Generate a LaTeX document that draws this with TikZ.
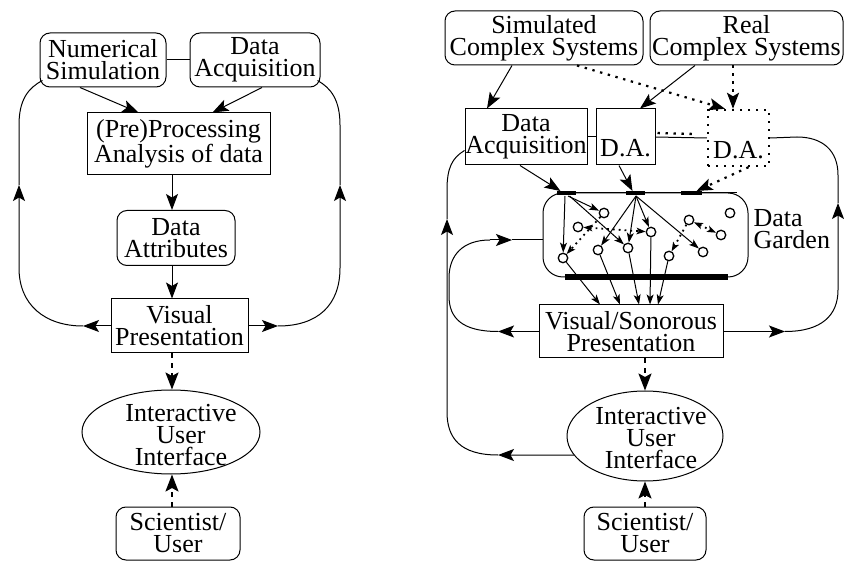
\documentclass[tikz,border=0pt]{standalone}
\usepackage{fontspec}
\setmainfont{Liberation Serif}
\usetikzlibrary{arrows.meta,shapes.geometric,calc}
\begin{document}
\begin{tikzpicture}[x=1pt,y=-1pt,line width=1pt,
  every node/.style={font=\fontsize{26}{22}\selectfont,inner sep=0pt,align=center},
  rbox/.style={draw,rounded corners=10pt},
  sbox/.style={draw},
  ell/.style={ellipse,draw},
  circ/.style={circle,draw,minimum size=9.5pt,inner sep=0pt,line width=1.3pt},
  arr/.style={-{Stealth[length=16pt,width=12pt,inset=3.5pt]}},
  sarr/.style={-{Stealth[length=10pt,width=7pt,inset=2.5pt]}},
  dsh/.style={line width=2.2pt,dash pattern=on 5pt off 5pt,-{Stealth[length=17pt,width=13pt,inset=3.5pt]}},
  dsharr/.style={line width=2.2pt,dash pattern=on 2.4pt off 5.6pt,-{Stealth[length=16pt,width=12pt,inset=3.5pt]}},
  dots/.style={line width=2.4pt,dash pattern=on 2.4pt off 5.6pt},
  gdots/.style={line width=1.8pt,dash pattern=on 1.8pt off 4pt},
  gtip/.style={-{Stealth[length=9pt,width=6.5pt,inset=2pt]}},
  gtips/.style={{Stealth[length=9pt,width=6.5pt,inset=2pt]}-{Stealth[length=9pt,width=6.5pt,inset=2pt]}},
  bar/.style={line width=4.5pt},
  bigbar/.style={line width=5.5pt}]
\useasboundingbox (0,0) rectangle (844,561);

% ---------------- left diagram ----------------
\node[rbox,minimum width=126pt,minimum height=54pt] (ns) at (103,60) {Numerical\\Simulation};
\node[rbox,minimum width=130pt,minimum height=54pt] (da1) at (255,60) {Data\\Acquisition};
\node[sbox,minimum width=183pt,minimum height=62pt] (pp) at (178.5,144) {(Pre)Processing\\Analysis of data};
\node[rbox,minimum width=118pt,minimum height=55pt] (dat) at (176,238) {Data\\Attributes};
\node[sbox,minimum width=137pt,minimum height=54pt] (vp) at (179.5,326) {Visual\\Presentation};
\node[ell,minimum width=178pt,minimum height=84pt] (ui1) at (171,432) {};
\node (ui1t) at (181,435) {Interactive\\User\\Interface};
\node[rbox,minimum width=124pt,minimum height=53pt] (su1) at (178,533.5) {Scientist/\\User};
\coordinate (lx) at (172,0);

\draw (ns.east) -- (da1.west);
\draw[arr] ([xshift=-23pt]ns.south) -- ([xshift=-40pt]pp.north);
\draw[arr] ([xshift=7pt]da1.south) -- ([xshift=34pt]pp.north);
\draw[arr] (pp.south -| lx) -- (dat.north -| lx);
\draw[arr] (dat.south -| lx) -- (vp.north -| lx);
\draw[dsh] (vp.south -| lx) -- (ui1.north -| lx);
\draw[dsh] (su1.north -| lx) -- (ui1.south -| lx);

% left loop
\draw[arr] (vp.west) -- (83,326);
\draw[arr] (83,326) .. controls (45,326) and (19,305) .. (19,268) -- (19,185);
\draw (19,185) -- (19,125) .. controls (19,100) and (28,88) .. ($(ns.south west)+(3,-7)$);
% right loop
\draw[arr] (vp.east) -- (278,326);
\draw[arr] (278,326) .. controls (318,326) and (340,305) .. (340,268) -- (340,185);
\draw (340,185) -- (340,125) .. controls (340,100) and (331,88) .. ($(da1.south east)+(-3,-7)$);

% ---------------- right diagram ----------------
\node[rbox,minimum width=198pt,minimum height=54pt] (scs) at (544,38) {Simulated\\Complex Systems};
\node[rbox,minimum width=193pt,minimum height=54pt] (rcs) at (746.5,38) {Real\\Complex Systems};
\node[sbox,minimum width=122pt,minimum height=56pt] (da2) at (526,137) {Data\\Acquisition};
\node[sbox,minimum width=59pt,minimum height=56pt,text height=46pt,text depth=6pt] (da3) at (625.5,137) {D.A.};
\node[draw,dots,minimum width=61pt,minimum height=56pt,text height=48pt,text depth=6pt] (da4) at (738.5,138) {D.A.};
\node[draw,rounded corners=20pt,minimum width=205pt,minimum height=84pt] (dg) at (645.5,235) {};
\node[anchor=west,align=left] (dgl) at (753,229) {Data\\Garden};
\node[sbox,minimum width=184pt,minimum height=53pt] (vs) at (631,331.5) {Visual/Sonorous\\Presentation};
\node[ell,minimum width=156pt,minimum height=90pt] (ui2) at (645,436) {};
\node (ui2t) at (651,438) {Interactive\\User\\Interface};
\node[rbox,minimum width=122pt,minimum height=53pt] (su2) at (645,533.5) {Scientist/\\User};

\coordinate (b1) at (566.5,193);
\coordinate (b2) at (635.5,193);
\coordinate (b3) at (691.5,193);

% top connections
\draw[arr] ([xshift=-32pt]scs.south) -- ([xshift=-39pt]da2.north);
\draw[arr] ([xshift=-51.5pt]rcs.south) -- ([xshift=14.5pt]da3.north);
\draw[dsharr] ([xshift=33pt]scs.south) -- ([xshift=-13.5pt]da4.north);
\draw[dsharr] ([xshift=-13.5pt]rcs.south) -- ([xshift=-5.5pt]da4.north);
\draw (da2.east) -- (da3.west);
\draw (da3.east) -- (da4.west);
\draw[dots] ($(da3.east)+(2,-4)$) -- ($(da4.west)+(-14,-4)$);

% into the garden
\draw[arr] ([xshift=-6pt]da2.south) -- ($(b1)+(-6,-2)$);
\draw[arr] ([xshift=-6.5pt]da3.south) -- ($(b2)+(-3,-2)$);
\draw[dsharr] ([xshift=10pt]da4.south) -- ($(b3)+(5,-2)$);
\draw ($(b1)+(-9.5,0)$) -- (737,193);
\draw[bar] ($(b1)+(-9.5,0)$) -- ($(b1)+(9.5,0)$);
\draw[bar] ($(b2)+(-9.5,0)$) -- ($(b2)+(9.5,0)$);
\draw[bar] ($(b3)+(-10.5,0)$) -- ($(b3)+(10.5,0)$);

% circles
\node[circ] (c1) at (604,213) {};
\node[circ] (c2) at (578,227) {};
\node[circ] (c3) at (651,232) {};
\node[circ] (c4) at (598,250) {};
\node[circ] (c5) at (628,248) {};
\node[circ] (c6) at (563,258) {};
\node[circ] (c7) at (689,220) {};
\node[circ] (c8) at (730,213) {};
\node[circ] (c9) at (721,235) {};
\node[circ] (c10) at (703,252) {};
\node[circ] (c11) at (669,256) {};

\draw[sarr] ($(b1)+(-1.5,3)$) -- (c6);
\draw[sarr] ($(b1)+(1.5,3)$) -- (c1);
\draw[sarr] ($(b1)+(3,3)$) -- (c5);
\draw[sarr] ($(b2)+(0.5,3)$) -- (c4);
\draw[sarr] ($(b2)+(0.5,3)$) -- (c5);
\draw[sarr] ($(b2)+(0.5,3)$) -- (c3);
\draw[sarr] ($(b2)+(0.5,3)$) -- (c10);
\draw[gdots,gtips] (c2) -- (c3);
\draw[gdots,gtip] (c1) -- (c6);
\draw[gdots,gtips] (c7) -- (c9);
\draw[gdots,gtip] (c7) -- (c11);

\draw[sarr] (c6) -- ([xshift=-31pt]vs.north);
\draw[sarr] (c4) -- ([xshift=-11pt]vs.north);
\draw[sarr] (c5) -- ([xshift=8pt]vs.north);
\draw[sarr] (c3) -- ([xshift=19pt]vs.north);
\draw[sarr] (c11) -- ([xshift=27pt]vs.north);
\draw[bigbar] (565,277) -- (728,277);

\draw[dsh] (vs.south -| ui2.north) -- (ui2.north);
\draw[dsh] (su2.north) -- (ui2.south);

% big left loop
\draw[arr] (ui2.195) -- (498,455);
\draw[arr] (498,455) .. controls (460,455) and (447,438) .. (447,412) -- (447,219);
\draw (447,219) -- (447,190) .. controls (447,168) and (452,158) .. ($(da2.south west)+(0,-15)$);
% inner loop
\draw[arr] (vs.west) -- (498,331.5);
\draw (498,331.5) .. controls (462,331.5) and (449,318) .. (449,296) -- (449,278) .. controls (449,255) and (463,240) .. (490,240);
\draw[arr] (490,240) -- (512,240);
\draw (512,240) -- ($(dg.west)+(0,5)$);
% right loop
\draw[arr] (vs.east) -- (785,331.5);
\draw[arr] (785,331.5) .. controls (822,331.5) and (838,315) .. (838,290) -- (838,203);
\draw (838,203) -- (838,175) .. controls (838,150) and (822,137) .. (797,137) -- (da4.east);
\end{tikzpicture}
\end{document}
